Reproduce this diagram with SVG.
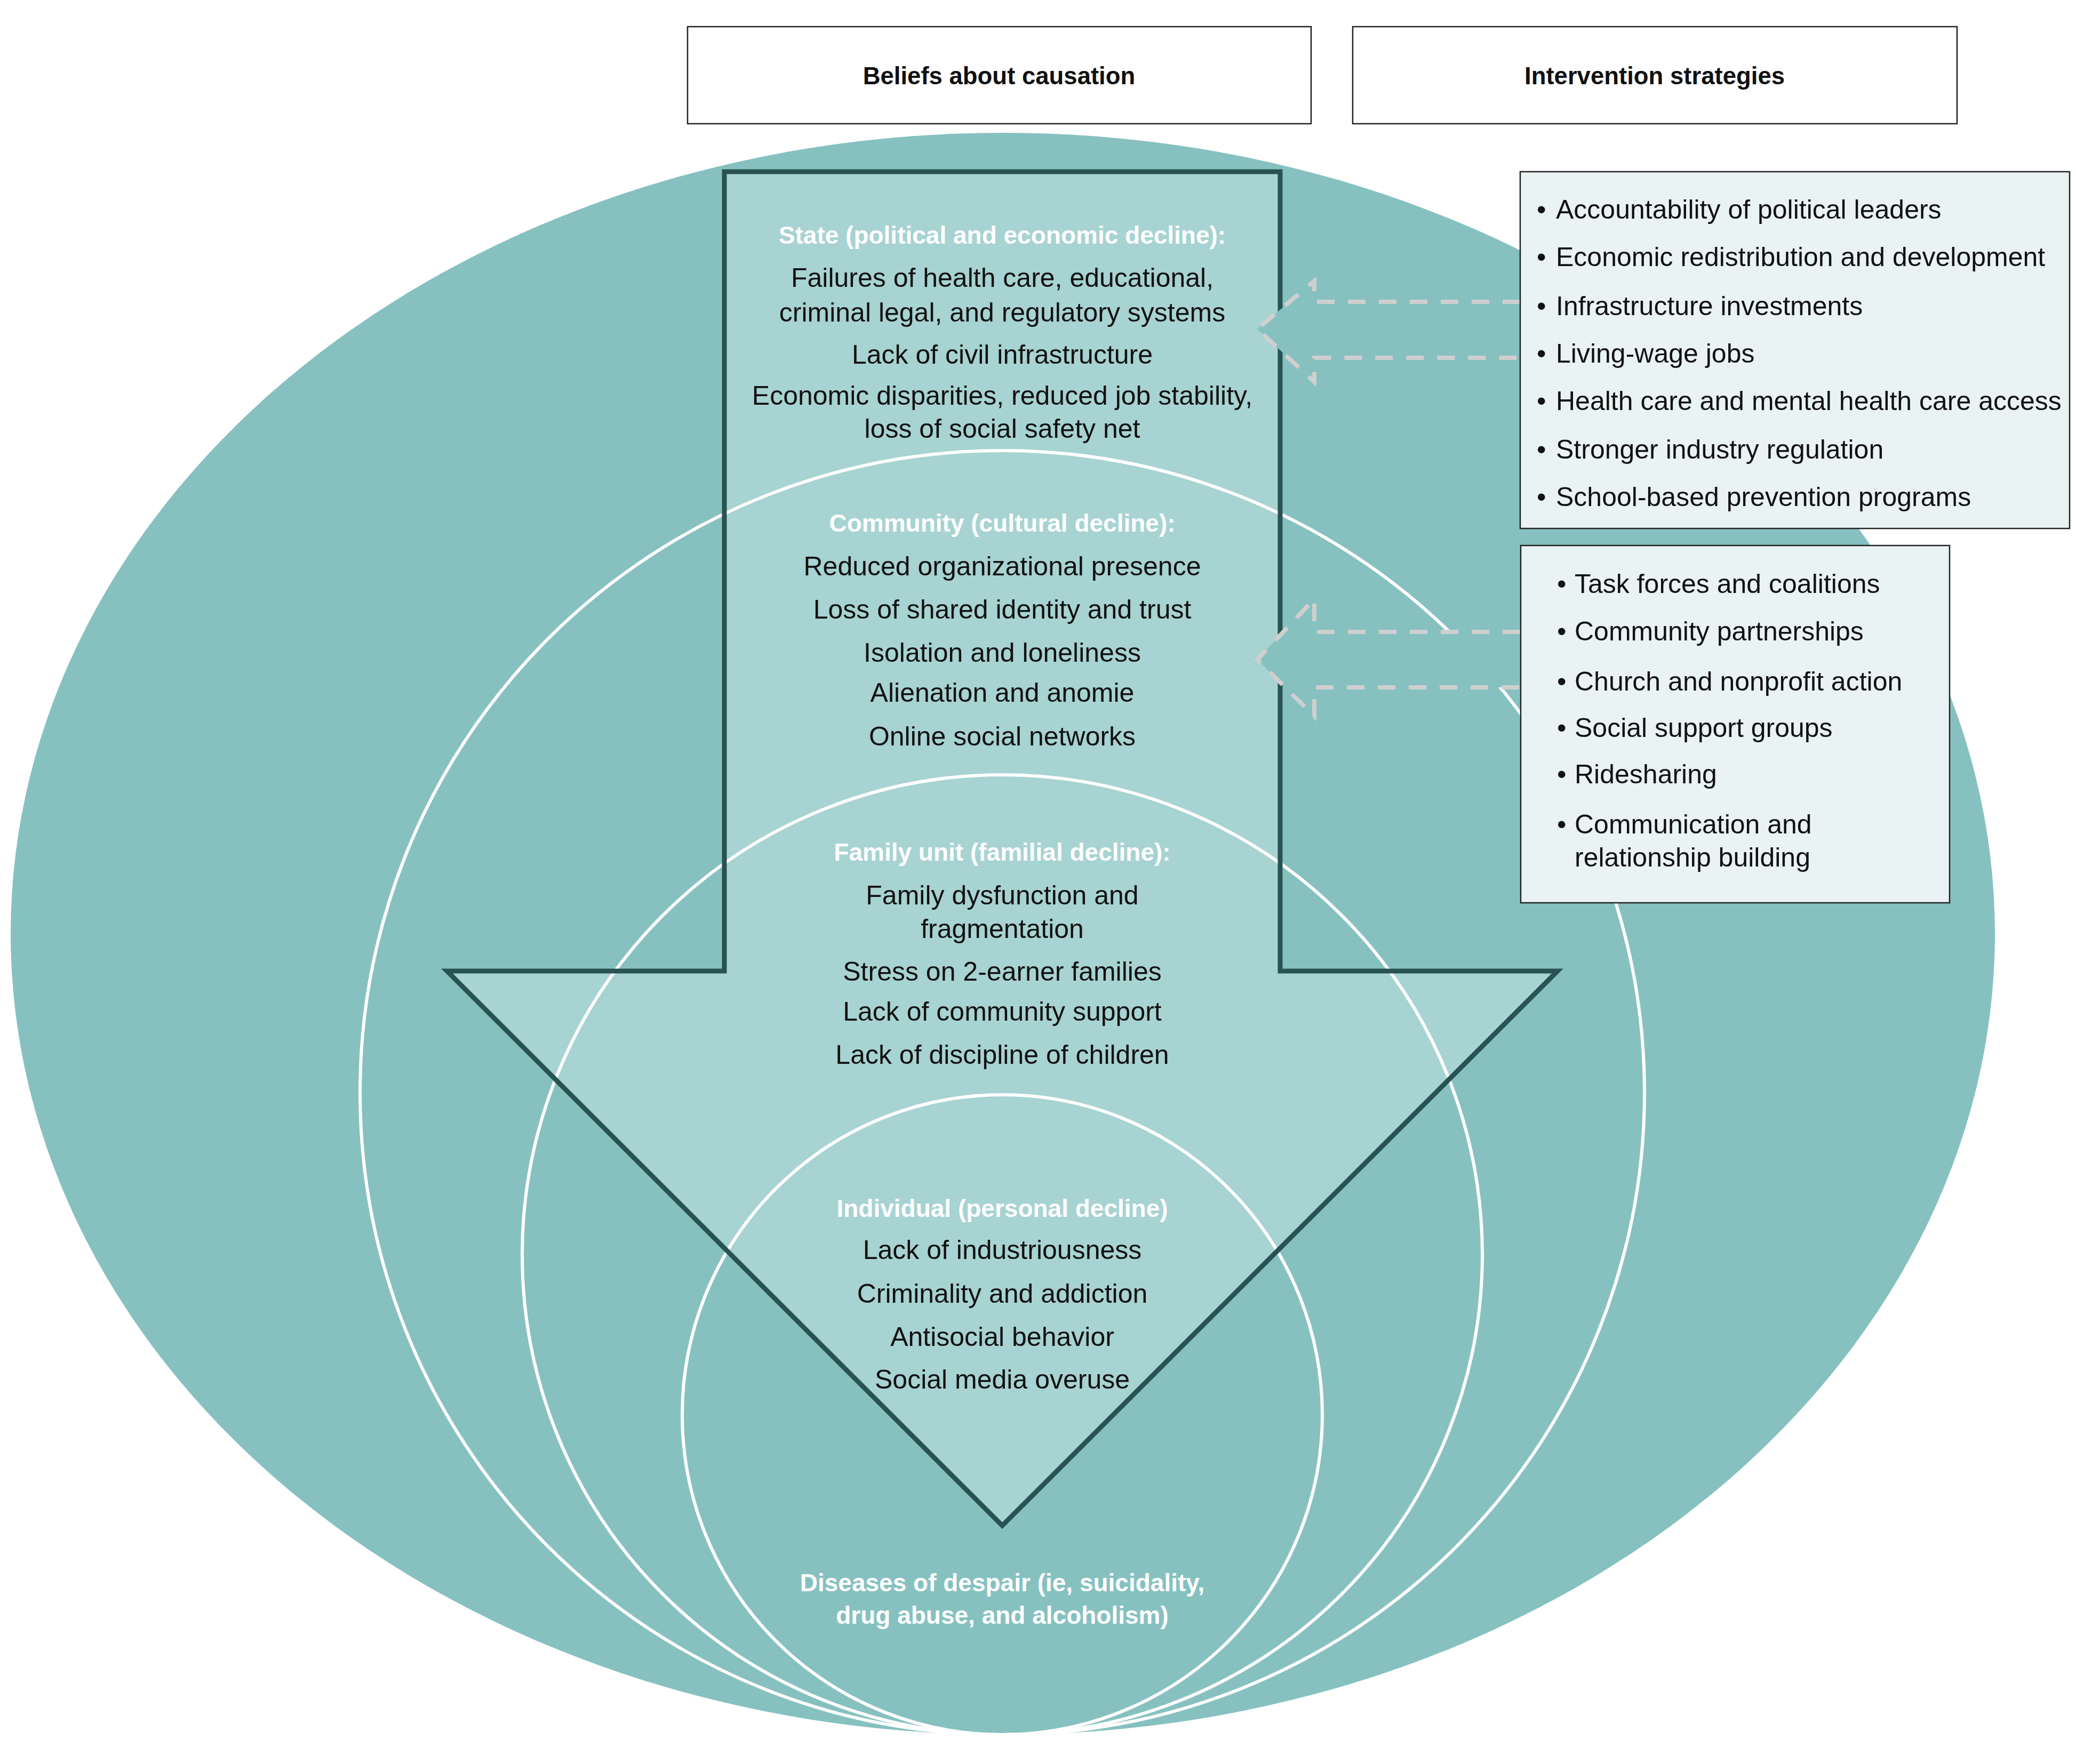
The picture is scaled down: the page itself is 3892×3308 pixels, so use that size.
<svg xmlns="http://www.w3.org/2000/svg" width="3892" height="3308" viewBox="0 0 3892 3308">
<style>
.t{font-family:"Liberation Sans",Arial,sans-serif;font-size:50px;fill:#111;text-anchor:middle}
.h{font-family:"Liberation Sans",Arial,sans-serif;font-size:46px;font-weight:bold;fill:#fff;text-anchor:middle}
.hd{font-family:"Liberation Sans",Arial,sans-serif;font-size:45.5px;font-weight:bold;fill:#111;text-anchor:middle}
.b{font-family:"Liberation Sans",Arial,sans-serif;font-size:50px;fill:#111}
.ring{fill:none;stroke:#fff;stroke-width:6}
.ibox{fill:#E9F3F3;stroke:#222;stroke-width:2.5}
.hbox{fill:#fff;stroke:#222;stroke-width:2.5}
.dash{fill:#86C1C0;stroke:#CFCFCF;stroke-width:8;stroke-dasharray:33 25}
</style>
<rect width="3892" height="3308" fill="#fff"/>
<g id="background">
<ellipse id="state-ellipse" cx="1880" cy="1751" rx="1860" ry="1502" fill="#86C1C0"/>
<polygon id="arrow-fill" points="1358,322 2400,322 2400,1821 2920,1821 1879,2861 838,1821 1358,1821" fill="#A7D3D2"/>
<circle id="community-ring" class="ring" cx="1879" cy="2049" r="1204"/>
<circle id="family-ring" class="ring" cx="1879" cy="2353" r="900"/>
<circle id="individual-ring" class="ring" cx="1879" cy="2653" r="600"/>
<polygon id="arrow-outline" points="1358,322 2400,322 2400,1821 2920,1821 1879,2861 838,1821 1358,1821" fill="none" stroke="#285352" stroke-width="9" stroke-linejoin="miter"/>
</g>
<g id="connectors">
<path id="state-arrow" class="dash" d="M2850,566 L2464,566 L2464,527 L2357,617 L2464,716 L2464,671 L2850,671"/>
<path id="community-arrow" class="dash" d="M2850,1185 L2464,1185 L2464,1123 L2357,1237 L2464,1343 L2464,1289 L2850,1289"/>
</g>
<g id="header-beliefs">
<rect class="hbox" x="1289" y="50" width="1169" height="182"/>
<text class="hd" x="1873" y="158">Beliefs about causation</text>
</g>
<g id="header-interventions">
<rect class="hbox" x="2536" y="50" width="1133" height="182"/>
<text class="hd" x="3102" y="158">Intervention strategies</text>
</g>
<g id="state">
<text class="h" x="1879" y="457">State (political and economic decline):</text>
<text class="t" x="1879" y="538">Failures of health care, educational,</text>
<text class="t" x="1879" y="603">criminal legal, and regulatory systems</text>
<text class="t" x="1879" y="682">Lack of civil infrastructure</text>
<text class="t" x="1879" y="759">Economic disparities, reduced job stability,</text>
<text class="t" x="1879" y="821">loss of social safety net</text>
</g>
<g id="community">
<text class="h" x="1879" y="997">Community (cultural decline):</text>
<text class="t" x="1879" y="1079">Reduced organizational presence</text>
<text class="t" x="1879" y="1160">Loss of shared identity and trust</text>
<text class="t" x="1879" y="1241">Isolation and loneliness</text>
<text class="t" x="1879" y="1316">Alienation and anomie</text>
<text class="t" x="1879" y="1398">Online social networks</text>
</g>
<g id="family">
<text class="h" x="1879" y="1614">Family unit (familial decline):</text>
<text class="t" x="1879" y="1696">Family dysfunction and</text>
<text class="t" x="1879" y="1759">fragmentation</text>
<text class="t" x="1879" y="1839">Stress on 2-earner families</text>
<text class="t" x="1879" y="1914">Lack of community support</text>
<text class="t" x="1879" y="1995">Lack of discipline of children</text>
</g>
<g id="individual">
<text class="h" x="1879" y="2282">Individual (personal decline)</text>
<text class="t" x="1879" y="2361">Lack of industriousness</text>
<text class="t" x="1879" y="2443">Criminality and addiction</text>
<text class="t" x="1879" y="2524">Antisocial behavior</text>
<text class="t" x="1879" y="2604">Social media overuse</text>
</g>
<g id="outcome">
<text class="h" x="1879" y="2984">Diseases of despair (ie, suicidality,</text>
<text class="h" x="1879" y="3045">drug abuse, and alcoholism)</text>
</g>
<g id="state-interventions">
<rect class="ibox" x="2850" y="322" width="1030" height="669"/>
<text class="b" y="410"><tspan x="2881">•</tspan><tspan x="2917">Accountability of political leaders</tspan></text>
<text class="b" y="499"><tspan x="2881">•</tspan><tspan x="2917">Economic redistribution and development</tspan></text>
<text class="b" y="591"><tspan x="2881">•</tspan><tspan x="2917">Infrastructure investments</tspan></text>
<text class="b" y="680"><tspan x="2881">•</tspan><tspan x="2917">Living-wage jobs</tspan></text>
<text class="b" y="769"><tspan x="2881">•</tspan><tspan x="2917">Health care and mental health care access</tspan></text>
<text class="b" y="860"><tspan x="2881">•</tspan><tspan x="2917">Stronger industry regulation</tspan></text>
<text class="b" y="949"><tspan x="2881">•</tspan><tspan x="2917">School-based prevention programs</tspan></text>
</g>
<g id="community-interventions">
<rect class="ibox" x="2851" y="1023" width="804" height="670"/>
<text class="b" y="1112"><tspan x="2919">•</tspan><tspan x="2952">Task forces and coalitions</tspan></text>
<text class="b" y="1201"><tspan x="2919">•</tspan><tspan x="2952">Community partnerships</tspan></text>
<text class="b" y="1295"><tspan x="2919">•</tspan><tspan x="2952">Church and nonprofit action</tspan></text>
<text class="b" y="1382"><tspan x="2919">•</tspan><tspan x="2952">Social support groups</tspan></text>
<text class="b" y="1469"><tspan x="2919">•</tspan><tspan x="2952">Ridesharing</tspan></text>
<text class="b" y="1563"><tspan x="2919">•</tspan><tspan x="2952">Communication and</tspan></text>
<text class="b" y="1625"><tspan x="2952">relationship building</tspan></text>
</g>
</svg>
